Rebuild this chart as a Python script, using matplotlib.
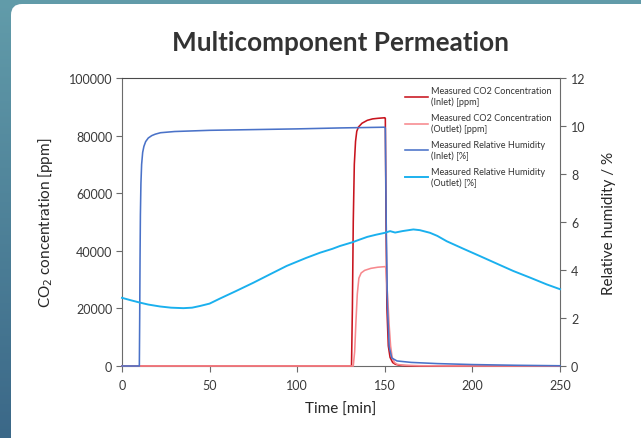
import numpy as np
import matplotlib
matplotlib.use("Agg")
import matplotlib.pyplot as plt
from matplotlib.patches import FancyBboxPatch

plt.rcParams['font.family'] = ['Lato', 'DejaVu Sans']

# ---- data ----
co2_in_t = [0, 131, 131.5, 132, 132.6, 133.3, 134, 135, 137, 140, 143, 146, 150,
            150.3, 150.7, 151.2, 152, 153, 154.5, 156, 158, 162, 170, 250]
co2_in = [0, 0, 20000, 50000, 70000, 78000, 81500, 83000, 84300, 85300, 85800, 86000, 86200,
          86000, 50000, 20000, 7000, 3000, 1200, 600, 300, 100, 0, 0]

co2_out_t = [0, 132, 132.8, 133.5, 134.3, 135.2, 136.5, 138.5, 142, 146, 150,
             150.5, 151, 151.8, 152.5, 153.3, 154.2, 155.5, 157, 160, 170, 185, 250]
co2_out = [0, 0, 5000, 15000, 25000, 30500, 32300, 33200, 33900, 34300, 34500,
           34300, 30000, 22000, 14000, 7000, 3000, 1200, 600, 300, 100, 30, 0]

rh_in_t = [0, 9.9, 10.1, 10.3, 10.5, 10.8, 11.2, 11.8, 12.5, 13.5, 15, 17, 19, 22, 30, 50,
           75, 100, 125, 150, 150.3, 150.8, 151.5, 152.5, 154, 157, 165, 180, 200, 225, 250]
rh_in = [0, 0, 2.0, 4.5, 6.3, 7.6, 8.4, 8.9, 9.15, 9.35, 9.5, 9.6, 9.66, 9.72, 9.77, 9.82,
         9.85, 9.88, 9.92, 9.95, 9.9, 6.0, 2.5, 0.8, 0.33, 0.21, 0.15, 0.1, 0.06, 0.03, 0.01]

rh_out_t = [0, 5, 10.3, 15, 21.7, 28, 35, 40, 44.5, 50, 55.9, 65, 75, 85, 94, 105, 113, 120,
            124.4, 131.7, 135, 140, 145, 150.1, 153, 155.9, 160, 166.3, 170, 175.8, 180,
            185.3, 195, 204.3, 215, 223.3, 233, 242.4, 250]
rh_out = [2.84, 2.74, 2.64, 2.56, 2.48, 2.43, 2.41, 2.43, 2.50, 2.60, 2.81, 3.12, 3.47, 3.84,
          4.17, 4.50, 4.72, 4.88, 5.00, 5.16, 5.25, 5.38, 5.47, 5.55, 5.62, 5.56, 5.62, 5.69,
          5.66, 5.55, 5.42, 5.20, 4.88, 4.58, 4.23, 3.96, 3.68, 3.40, 3.20]

labels = ["Measured CO2 Concentration\n(Inlet) [ppm]",
          "Measured CO2 Concentration\n(Outlet) [ppm]",
          "Measured Relative Humidity\n(Inlet) [%]",
          "Measured Relative Humidity\n(Outlet) [%]"]
colors = ["#c8141e", "#f7898e", "#4a72c8", "#1ab0ee"]

x_ticks = [0, 50, 100, 150, 200, 250]
y1_ticks = [0, 20000, 40000, 60000, 80000, 100000]
y2_ticks = [0, 2, 4, 6, 8, 10, 12]

# ---- figure ----
W, H = 641, 439
fig = plt.figure(figsize=(W / 100, H / 100), dpi=100)

bg = fig.add_axes([0, 0, 1, 1], zorder=-10)
bg.set_axis_off()
c_top = np.array([0x62, 0x9c, 0xaa]) / 255
c_bot = np.array([0x3b, 0x68, 0x88]) / 255
g = np.linspace(0, 1, 256)[:, None]
grad = c_top[None, None, :] * (1 - g[:, :, None]) + c_bot[None, None, :] * g[:, :, None]
grad = np.repeat(grad, 2, axis=1)
bg.imshow(grad, aspect='auto', extent=[0, W, H, 0])
bg.set_xlim(0, W)
bg.set_ylim(H, 0)
panel = FancyBboxPatch((11, 5), W + 20, H + 20, boxstyle="round,pad=0,rounding_size=11",
                       fc="white", ec="none")
bg.add_patch(panel)

left, right, top, bottom = 122, 560, 79, 367
ax = fig.add_axes([left / W, 1 - bottom / H, (right - left) / W, (bottom - top) / H])
ax2 = ax.twinx()

spine_c = "#6b6b6b"
for s in ['left', 'bottom']:
    ax.spines[s].set_color(spine_c)
ax.spines['top'].set_color("#4a4a4a")
ax.spines['right'].set_visible(False)
for s in ['left', 'bottom', 'top']:
    ax2.spines[s].set_visible(False)
ax2.spines['right'].set_color(spine_c)

lw = 1.15
l1, = ax.plot(co2_in_t, co2_in, color=colors[0], lw=lw, clip_on=False, zorder=3)
l2, = ax.plot(co2_out_t, co2_out, color=colors[1], lw=lw, clip_on=False, zorder=3.1)
l3, = ax2.plot(rh_in_t, rh_in, color=colors[2], lw=lw, clip_on=False, zorder=3)
l4, = ax2.plot(rh_out_t, rh_out, color=colors[3], lw=lw * 1.2, clip_on=False, zorder=3.1)

ax.set_xlim(0, 250)
ax.set_ylim(0, 100000)
ax2.set_ylim(0, 12)
ax.set_xticks(x_ticks)
ax.set_yticks(y1_ticks)
ax2.set_yticks(y2_ticks)

tc = "#3a3a3a"
ax.tick_params(axis='both', direction='out', length=4, width=0.8, color=spine_c,
               labelsize=9, labelcolor=tc, pad=3)
ax.tick_params(axis='x', pad=5)
ax2.tick_params(axis='y', direction='out', length=4, width=0.8, color=spine_c,
                labelsize=9, labelcolor=tc, pad=4)

ax.set_xlabel("Time [min]", fontsize=11, color="#262626", labelpad=8)
ax.set_ylabel("CO$_2$ concentration [ppm]", fontsize=11, color="#262626", labelpad=10)
ax2.set_ylabel("Relative humidity / %", fontsize=11, color="#262626", labelpad=12)

fig.text(340 / W, 1 - 43 / H, "Multicomponent Permeation", ha='center', va='center',
         fontsize=18.8, fontweight='bold', color="#333333")

ax2.legend([l1, l2, l3, l4], labels, loc='upper right', bbox_to_anchor=(1.0, 1.0),
           frameon=False, fontsize=6.6, handlelength=2.6, handletextpad=0.3,
           labelspacing=0.75, borderaxespad=0.5, labelcolor="#333333")

fig.savefig("out.png", dpi=100)
